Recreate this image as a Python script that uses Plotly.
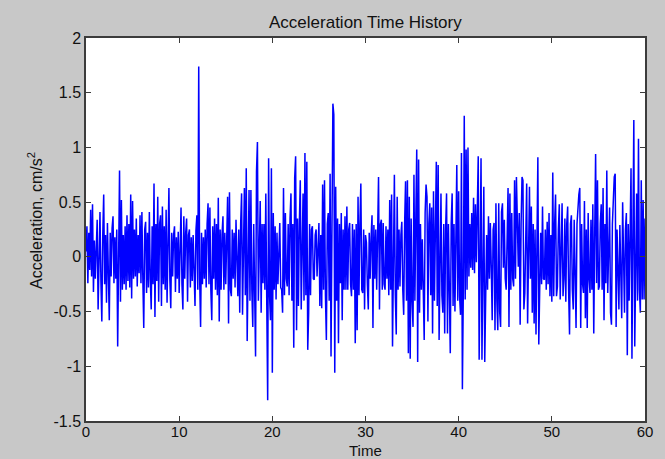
import plotly.graph_objects as go

# ---- data ----
title_text = "Acceleration Time History"
x_label = "Time"
y_label = "Acceleration, cm/s<sup>2</sup>"

t_start = 0.0
t_step = 0.1  # seconds between samples

accel_00_10 = [
    0.05, 0.28, -0.24, 0.22, -0.12, 0.43, -0.18, 0.48, -0.32, 0.15,
    -0.2, 0.18, 0.34, -0.48, 0.25, 0.41, -0.22, -0.59, 0.2, 0.57,
    -0.25, 0.2, -0.42, 0.31, -0.15, -0.58, 0.22, -0.18, 0.26, 0.37,
    -0.24, 0.18, -0.2, 0.25, -0.82, 0.3, 0.79, -0.41, 0.52, -0.3,
    0.2, -0.25, 0.28, -0.3, 0.38, -0.22, 0.3, -0.28, 0.57, -0.38,
    0.51, -0.2, 0.25, -0.18, 0.35, -0.27, 0.2, -0.15, 0.38, -0.24,
    0.41, -0.2, -0.65, 0.25, 0.32, -0.33, 0.22, -0.28, 0.41, -0.2,
    -0.48, 0.28, -0.25, 0.67, -0.55, 0.3, -0.22, 0.55, -0.41, 0.3,
    0.38, -0.45, 0.46, -0.25, 0.28, -0.3, 0.43, -0.42, 0.25, 0.63,
    -0.2, -0.47, 0.22, -0.18, 0.2, 0.28, -0.32, 0.18, -0.2, 0.23,
]
accel_10_20 = [
    -0.33, 0.2, 0.45, -0.25, -0.48, 0.37, -0.2, 0.22, 0.35, -0.41,
    0.2, 0.25, -0.28, 0.18, -0.22, 0.2, -0.3, -0.45, 0.24, 0.38,
    -0.3, 1.74, -0.2, -0.64, 0.22, -0.25, 0.18, -0.2, 0.25, -0.28,
    0.3, 0.49, -0.25, 0.45, -0.3, -0.58, 0.28, -0.2, 0.35, -0.3,
    0.3, -0.35, 0.54, -0.59, 0.25, -0.3, 0.2, 0.37, -0.3, 0.22,
    -0.25, 0.3, 0.55, -0.61, 0.59, -0.3, -0.36, 0.25, -0.2, 0.22,
    -0.28, 0.34, -0.2, -0.36, 0.25, -0.51, 0.3, 0.58, -0.53, 0.3,
    0.63, -0.35, 0.81, -0.77, 0.3, 0.61, -0.4, 0.61, -0.3, -0.64,
    0.3, -0.45, -0.91, 0.78, 1.05, -0.4, 0.35, 0.51, -0.51, 0.3,
    -0.24, 0.3, -0.3, 0.58, -0.4, -1.31, 0.9, -0.35, -0.58, 0.81,
]
accel_20_30 = [
    -1.06, 0.4, -0.3, 0.28, -0.39, 0.22, -0.25, 0.2, 0.31, -0.28,
    -0.3, -0.51, 0.63, -0.35, 0.4, -0.2, -0.27, 0.3, -0.35, 0.35,
    0.58, -0.4, 0.3, -0.83, 0.72, 0.92, -0.67, 0.35, -0.45, 0.3,
    0.7, -0.48, 0.3, 0.58, -0.4, 0.95, -0.35, 0.87, -0.85, -0.51,
    0.3, -0.35, 0.25, 0.28, -0.2, -0.21, 0.2, 0.25, -0.18, 0.22,
    0.31, -0.45, 0.2, -0.47, 0.66, -0.3, 0.7, -0.35, -0.76, 0.3,
    0.4, -0.4, 0.76, -0.91, 0.3, 1.4, 1.3, -1.06, 0.64, -0.4,
    0.35, -0.79, 0.3, -0.24, 0.4, -0.58, 0.25, -0.3, 0.37, -0.3,
    0.46, -0.3, 0.25, 0.31, -0.25, -0.36, 0.3, -0.3, 0.25, -0.79,
    0.3, -0.67, 0.55, -0.35, 0.3, 0.67, -0.3, -0.33, 0.25, -0.48,
]
accel_30_40 = [
    0.2, 0.13, -0.25, -0.48, 0.22, -0.2, 0.18, 0.38, -0.65, 0.29,
    -0.2, 0.25, -0.3, 0.2, 0.73, -0.48, 0.3, 0.34, -0.3, 0.31,
    -0.25, -0.3, 0.28, -0.2, 0.25, -0.35, 0.52, -0.3, 0.57, -0.82,
    0.3, 0.75, -0.35, -0.71, 0.55, -0.3, 0.25, -0.27, 0.2, 0.32,
    -0.3, -0.53, 0.3, 0.69, -0.4, 0.7, -0.88, 0.55, -0.93, 0.35,
    -0.4, -0.64, 0.75, -0.4, 0.35, 0.98, -0.96, 0.89, -0.51, 0.3,
    -0.3, 0.16, -0.3, -0.76, 0.4, 0.66, 0.55, -0.59, 0.3, 0.49,
    -0.35, 0.45, -0.7, 0.6, -0.4, 0.3, 0.87, -0.45, 0.84, -0.76,
    0.3, 0.58, -0.35, -0.51, 0.3, -0.7, 0.25, 0.58, -0.7, 0.3,
    -0.3, -0.88, 0.3, 0.58, -0.45, 0.3, -0.5, 0.35, 0.84, -0.4,
]
accel_40_50 = [
    0.6, -0.36, -0.53, 0.95, -1.21, -0.3, 1.29, -0.39, 0.98, -0.3,
    1.0, -0.18, 0.3, -0.1, 0.4, -0.12, 0.54, -0.15, 0.48, -0.05,
    0.3, 0.92, -0.94, 0.13, 0.9, -0.94, 0.2, 0.64, -0.96, -0.45,
    0.2, -0.3, 0.37, -0.2, 0.31, -0.1, -0.58, 0.25, 0.31, -0.67,
    0.49, -0.4, -0.67, 0.49, -0.5, -0.64, 0.41, 0.49, -0.1, 0.34,
    -0.2, -0.3, 0.3, 0.63, -0.64, 0.58, -0.3, 0.4, -0.2, -0.27,
    0.7, -0.2, 0.73, 0.1, -0.09, 0.4, -0.62, 0.3, 0.73, 0.7,
    -0.48, -0.33, 0.3, 0.67, -0.61, 0.35, 0.64, -0.2, 0.46, -0.51,
    0.3, -0.61, 0.25, -0.71, 0.43, 0.91, -0.8, -0.3, 0.22, -0.25,
    0.46, -0.2, -0.21, 0.25, -0.3, 0.32, -0.25, 0.4, -0.36, 0.2,
]
accel_50_60 = [
    -0.41, 0.77, -0.36, 0.3, 0.57, -0.36, -0.27, 0.25, 0.48, -0.39,
    0.25, 0.49, -0.36, -0.2, 0.35, -0.41, 0.3, 0.46, -0.3, -0.71,
    0.3, 0.38, -0.3, -0.48, 0.34, -0.3, -0.65, 0.3, 0.49, 0.57,
    0.63, -0.65, 0.3, -0.25, -0.33, 0.51, -0.56, 0.25, -0.65, 0.4,
    -0.2, -0.33, 0.34, -0.3, 0.48, -0.7, 0.2, 0.94, -0.24, 0.7,
    -0.3, -0.27, 0.3, 0.48, -0.3, 0.63, -0.58, 0.3, -0.24, 0.79,
    -0.33, 0.3, 0.45, -0.51, -0.62, 0.3, 0.57, 0.73, 0.76, -0.64,
    0.25, -0.3, -0.48, 0.29, -0.3, -0.56, 0.5, -0.3, -0.51, 0.25,
    0.4, -0.9, 0.3, -0.4, 0.34, 0.81, -0.93, 0.73, 1.25, -0.82,
    0.3, 0.58, -0.4, 1.08, -0.3, -0.51, 0.7, -0.39, 0.52, -0.39,
    0.35,
]

x_tick_vals = [0, 10, 20, 30, 40, 50, 60]
x_tick_text = ["0", "10", "20", "30", "40", "50", "60"]
y_tick_vals = [-1.5, -1, -0.5, 0, 0.5, 1, 1.5, 2]
y_tick_text = ["-1.5", "-1", "-0.5", "0", "0.5", "1", "1.5", "2"]

accel = accel_00_10 + accel_10_20 + accel_20_30 + accel_30_40 + accel_40_50 + accel_50_60

# ---- figure ----
W, H = 665, 459
L, R, T, B = 86, 20, 38, 38
FONT = "Liberation Sans, Arial, Helvetica, sans-serif"
AX = "#3c3c3c"
BG = "#c8c8c8"
TXT = "#111111"

fig = go.Figure()
fig.add_trace(go.Scatter(
    y=accel, x0=t_start, dx=t_step, mode="lines",
    line=dict(color="#0000ff", width=1.5), hoverinfo="skip", showlegend=False,
))

axis_common = dict(
    showgrid=False, zeroline=False, showline=True, linecolor=AX, linewidth=1.5,
    mirror="ticks", ticks="inside", ticklen=5, tickwidth=1, tickcolor=AX,
)
fig.update_xaxes(range=[0, 60], tickvals=x_tick_vals, ticktext=x_tick_text,
                 ticklabelstandoff=-4, tickfont=dict(family=FONT, size=15, color=TXT),
                 **axis_common)
fig.update_yaxes(range=[-1.5, 2], tickvals=y_tick_vals, ticktext=y_tick_text,
                 tickfont=dict(family=FONT, size=16, color=TXT), **axis_common)

pw, ph = W - L - R, H - T - B
fig.add_annotation(text=title_text, xref="paper", yref="paper", x=0.5,
                   y=1 + (T - 22) / ph, xanchor="center", yanchor="middle",
                   showarrow=False, font=dict(family=FONT, size=17, color=TXT))
fig.add_annotation(text=x_label, xref="paper", yref="paper", x=0.5,
                   y=-(450 - (H - B)) / ph, xanchor="center", yanchor="middle",
                   showarrow=False, font=dict(family=FONT, size=15, color=TXT))
fig.add_annotation(text=y_label, xref="paper", yref="paper", x=(35 - L) / pw,
                   y=((H - B) - 221) / ph, xanchor="center", yanchor="middle",
                   textangle=-90, showarrow=False,
                   font=dict(family=FONT, size=16, color=TXT))

fig.update_layout(
    width=W, height=H, autosize=False,
    margin=dict(l=L, r=R, t=T, b=B, pad=0),
    paper_bgcolor=BG, plot_bgcolor="#ffffff",
)

fig.write_html(
    "out.html",
    config={"displayModeBar": False},
    post_script=(
        "document.body.style.margin='0';"
        "document.body.style.padding='0';"
        "document.body.style.overflow='hidden';"
        "document.body.style.background='" + BG + "';"
    ),
)
